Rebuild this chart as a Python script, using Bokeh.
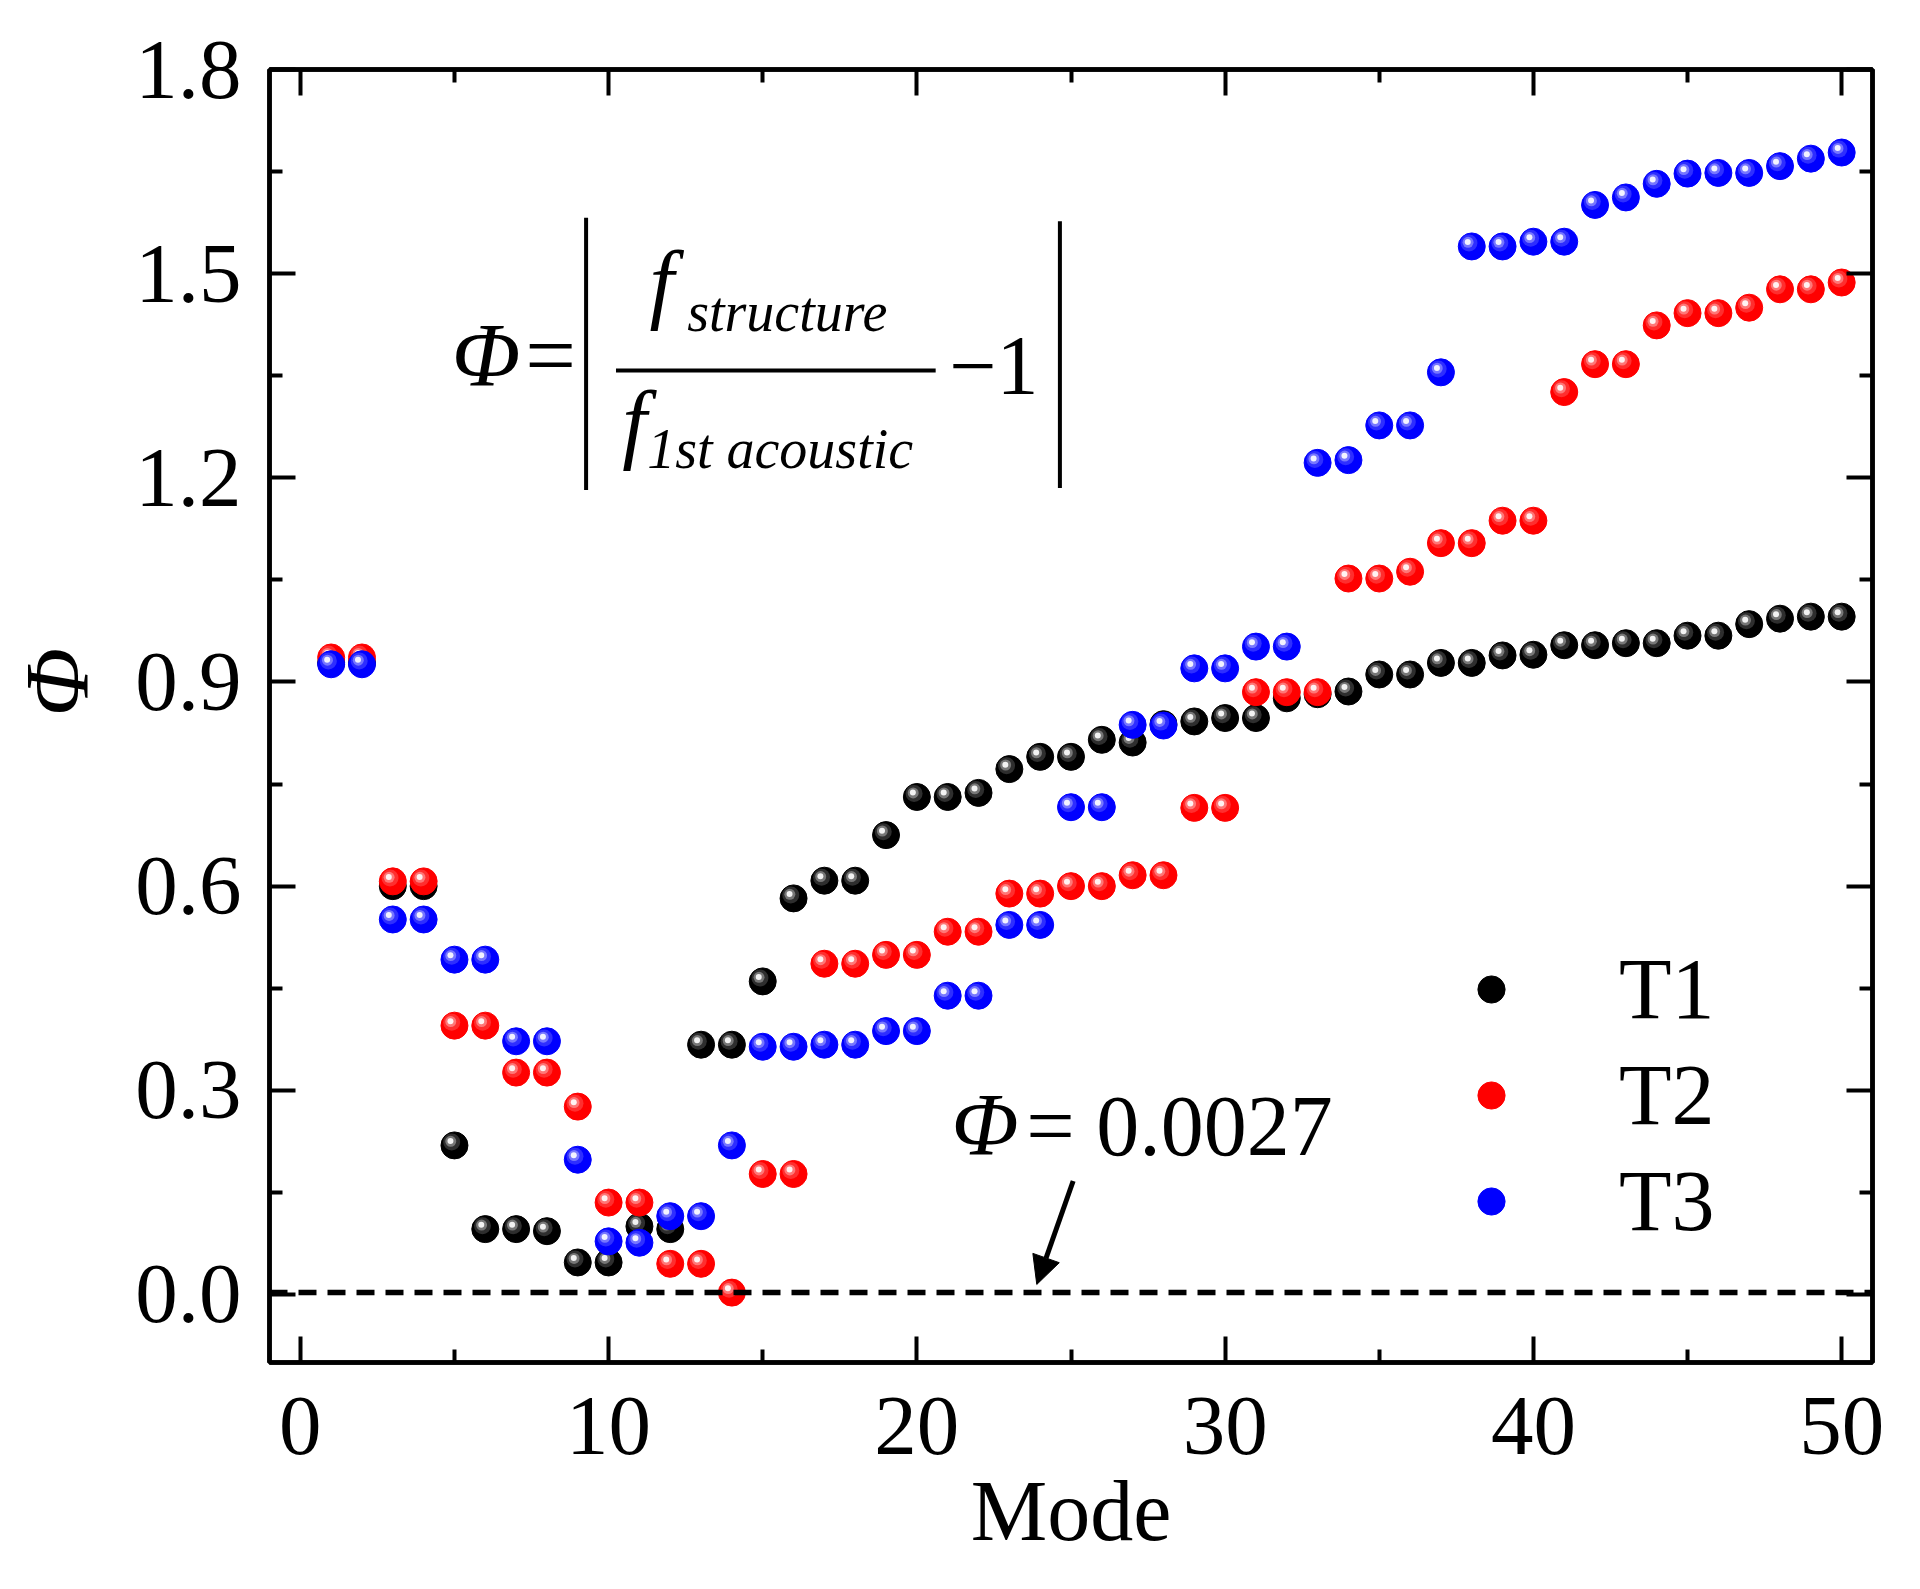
from bokeh.embed import file_html
from bokeh.models import (Arrow, ColumnDataSource, CustomJSTickFormatter, FixedTicker,
                          Label, Legend, LegendItem, LinearAxis, NormalHead,
                          PrintfTickFormatter, Range1d, Span)
from bokeh.plotting import figure
from bokeh.resources import INLINE
from bokeh.transform import dodge

# Phi = |f_structure / f_1st acoustic - 1| for the first 50 modes

mode = list(range(1, 51))

t1 = [0.928, 0.928, 0.600, 0.600, 0.219, 0.096, 0.096, 0.093, 0.047, 0.047,
      0.100, 0.096, 0.367, 0.367, 0.460, 0.582, 0.608, 0.608, 0.675, 0.731,
      0.731, 0.737, 0.772, 0.790, 0.790, 0.815, 0.811, 0.838, 0.842, 0.847,
      0.847, 0.876, 0.882, 0.886, 0.911, 0.911, 0.928, 0.928, 0.939, 0.940,
      0.954, 0.954, 0.957, 0.957, 0.968, 0.968, 0.985, 0.993, 0.996, 0.996]

t2 = [0.936, 0.936, 0.607, 0.607, 0.395, 0.395, 0.326, 0.326, 0.276, 0.135,
      0.135, 0.045, 0.045, 0.0027, 0.177, 0.177, 0.486, 0.486, 0.499, 0.499,
      0.533, 0.533, 0.589, 0.589, 0.600, 0.600, 0.616, 0.616, 0.715, 0.715,
      0.885, 0.885, 0.885, 1.052, 1.052, 1.062, 1.104, 1.104, 1.137, 1.137,
      1.326, 1.367, 1.367, 1.424, 1.442, 1.442, 1.450, 1.477, 1.477, 1.487]

t3 = [0.926, 0.926, 0.551, 0.551, 0.492, 0.492, 0.372, 0.372, 0.198, 0.078,
      0.076, 0.115, 0.115, 0.219, 0.364, 0.364, 0.367, 0.367, 0.387, 0.387,
      0.439, 0.439, 0.543, 0.543, 0.716, 0.716, 0.837, 0.836, 0.920, 0.920,
      0.952, 0.952, 1.222, 1.226, 1.277, 1.277, 1.355, 1.540, 1.540, 1.547,
      1.547, 1.601, 1.612, 1.632, 1.647, 1.648, 1.648, 1.658, 1.669, 1.678]

series_names = ["T1", "T2", "T3"]
series_colors = ["#000000", "#ff0000", "#0000ff"]

phi_min = 0.0027
x_ticks = [0, 10, 20, 30, 40, 50]
y_ticks = [0.0, 0.3, 0.6, 0.9, 1.2, 1.5, 1.8]

FONT = "Liberation Serif"

p = figure(frame_width=1603, frame_height=1293,
           min_border_left=269, min_border_right=30,
           min_border_top=69, min_border_bottom=212,
           x_range=Range1d(-1, 51), y_range=Range1d(-0.1, 1.8),
           output_backend="svg", toolbar_location=None)

p.xgrid.grid_line_color = None
p.ygrid.grid_line_color = None
p.outline_line_color = "black"
p.outline_line_width = 4.5

x_ticker = FixedTicker(ticks=x_ticks, minor_ticks=[5, 15, 25, 35, 45])
y_ticker = FixedTicker(ticks=y_ticks,
                       minor_ticks=[-0.15, 0.15, 0.45, 0.75, 1.05, 1.35, 1.65])

no_labels = CustomJSTickFormatter(code="return ''")
p.add_layout(LinearAxis(formatter=no_labels, major_label_standoff=0), "above")
p.add_layout(LinearAxis(formatter=no_labels, major_label_standoff=0), "right")

for ax in p.axis:
    ax.axis_line_width = 4.5
    ax.major_tick_line_width = 4
    ax.minor_tick_line_width = 4
    ax.major_tick_in = 26
    ax.major_tick_out = 0
    ax.minor_tick_in = 13
    ax.minor_tick_out = 0
    ax.major_label_text_font = FONT
    ax.major_label_text_font_size = "85px"
    ax.major_label_text_color = "black"

for ax in p.xaxis:
    ax.ticker = x_ticker
for ax in p.yaxis:
    ax.ticker = y_ticker

xb = p.below[0]
xb.axis_label = "Mode"
xb.major_label_standoff = 35
xb.axis_label_text_font = FONT
xb.axis_label_text_font_size = "86px"
xb.axis_label_text_font_style = "normal"
xb.axis_label_text_color = "black"
xb.axis_label_standoff = 6

yl = p.left[0]
yl.formatter = PrintfTickFormatter(format="%.1f")
yl.axis_label = "\u00a0\u00a0\u00a0Φ"
yl.major_label_standoff = 28
yl.axis_label_text_font = FONT
yl.axis_label_text_font_size = "90px"
yl.axis_label_text_font_style = "italic"
yl.axis_label_text_color = "black"
yl.axis_label_standoff = 25

# reference level
p.add_layout(Span(location=phi_min, dimension="width", line_color="black",
                  line_width=5.5, line_dash="18 11"))

items = []
for name, vals, color in zip(series_names, [t1, t2, t3], series_colors):
    src = ColumnDataSource(dict(x=mode, y=vals))
    base = p.scatter("x", "y", source=src, size=27, fill_color=color,
                     line_color=color, line_width=1)
    # sphere shading
    p.scatter(dodge("x", -0.09), dodge("y", 0.005), source=src, size=17,
              fill_color="white", fill_alpha=0.18, line_color=None)
    p.scatter(dodge("x", -0.12), dodge("y", 0.006), source=src, size=11,
              fill_color="white", fill_alpha=0.35, line_color=None)
    p.scatter(dodge("x", -0.13), dodge("y", 0.0065), source=src, size=6,
              fill_color="white", fill_alpha=0.9, line_color=None)
    items.append(LegendItem(label=name, renderers=[base]))

legend = Legend(items=items, location=(1188, 108),
                label_text_font=FONT, label_text_font_size="86px",
                label_text_color="black",
                glyph_width=68, glyph_height=106, spacing=0,
                label_standoff=94, padding=0, margin=0,
                border_line_color=None, background_fill_alpha=0)
p.add_layout(legend)

# formula box
txt = dict(text_font=FONT, text_color="black", text_baseline="alphabetic")
p.add_layout(Label(x=4.91, y=1.380, text="Φ", text_font_size="90px",
                   text_font_style="italic", **txt))
p.add_layout(Label(x=7.30, y=1.380, text="=", text_font_size="90px", **txt))
p.add_layout(Label(x=11.33, y=1.487, text="f", text_font_size="88px",
                   text_font_style="italic", **txt))
p.add_layout(Label(x=12.55, y=1.443, text="structure", text_font_size="56px",
                   text_font_style="italic", **txt))
p.add_layout(Label(x=10.44, y=1.282, text="f", text_font_size="88px",
                   text_font_style="italic", **txt))
p.add_layout(Label(x=11.25, y=1.242, text="1st acoustic", text_font_size="56px",
                   text_font_style="italic", **txt))
p.add_layout(Label(x=21.05, y=1.365, text="\u22121", text_font_size="84px", **txt))

for xs, ys, xe, ye in [(9.27, 1.582, 9.27, 1.182),
                       (24.64, 1.577, 24.64, 1.185),
                       (10.24, 1.3576, 20.61, 1.3576)]:
    p.add_layout(Arrow(start=None, end=None, x_start=xs, y_start=ys,
                       x_end=xe, y_end=ye, line_color="black", line_width=4))

# annotation of the minimum
p.add_layout(Label(x=21.12, y=0.249, text="Φ", text_font_size="88px",
                   text_font_style="italic", **txt))
p.add_layout(Label(x=23.55, y=0.248, text="= 0.0027", text_font_size="86px", **txt))
p.add_layout(Arrow(end=NormalHead(size=28, fill_color="black", line_color="black"),
                   x_start=25.07, y_start=0.1667, x_end=23.89, y_end=0.0147,
                   line_color="black", line_width=5))

open("out.html", "w").write(file_html(p, INLINE))
